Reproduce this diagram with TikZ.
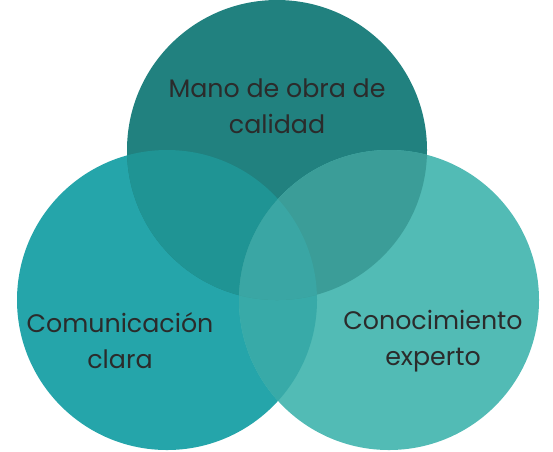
\documentclass[tikz,border=0pt]{standalone}
\usepackage{fontspec}
\setmainfont{Poppins}
\definecolor{topc}{HTML}{21817F}
\definecolor{leftc}{HTML}{25A5AA}
\definecolor{rightc}{HTML}{52BBB5}
\definecolor{lt}{HTML}{1F9494}
\definecolor{tr}{HTML}{3B9D98}
\definecolor{lr}{HTML}{38AAA8}
\definecolor{ltr}{HTML}{3AA6A4}
\definecolor{txt}{HTML}{2B2B2B}

\begin{document}
\begin{tikzpicture}[x=0.02cm, y=-0.02cm,
  label/.style={text=txt, align=center, font=\fontsize{14.4}{20.5}\selectfont}]

\useasboundingbox (0,0) rectangle (553,451);

%---------------------------------------
% Circle centres
%---------------------------------------
\def\R{150}
\coordinate (ctop)   at (277,150);
\coordinate (cleft)  at (167,300);
\coordinate (cright) at (389,300);

% Plain circles
\fill[leftc]  (cleft)  circle (\R);
\fill[topc]   (ctop)   circle (\R);
\fill[rightc] (cright) circle (\R);

% Overlaps
\begin{scope}
  \clip (cleft) circle (\R);
  \fill[lt] (ctop) circle (\R);
  \fill[lr] (cright) circle (\R);
\end{scope}
\begin{scope}
  \clip (ctop) circle (\R);
  \fill[tr] (cright) circle (\R);
  \clip (cleft) circle (\R);
  \fill[ltr] (cright) circle (\R);
\end{scope}

%---------------------------------------
% Labels
%---------------------------------------
\node[label] (quality) at (277,106) {Mano de obra de\\calidad};
\node[label] (comm)    at (120,341) {Comunicación\\clara};
\node[label] (expert)  at (433,341) {Conocimiento\\experto};

\end{tikzpicture}
\end{document}
